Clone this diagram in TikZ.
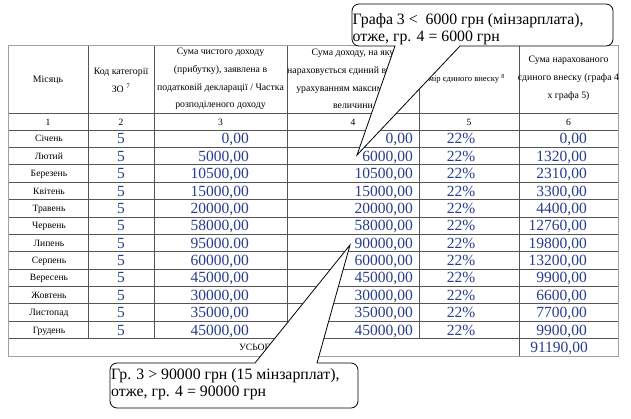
\documentclass[tikz,border=0pt]{standalone}
\usepackage{fontspec}
\setmainfont{Liberation Serif}
\definecolor{numblue}{RGB}{40,62,140}
\definecolor{gridc}{RGB}{85,85,85}
\definecolor{borderc}{RGB}{160,160,160}
\begin{document}
\begin{tikzpicture}[x=1pt,y=-1pt,
  grid/.style={draw=gridc, line width=0.6pt},
  border/.style={draw=borderc, line width=0.8pt},
  hdr/.style={font=\fontsize{9.8}{17.8}\selectfont, align=center, inner sep=0pt},
  colno/.style={font=\fontsize{9.6}{11}\selectfont, inner sep=0pt, anchor=base},
  mon/.style={font=\fontsize{9.6}{11}\selectfont, inner sep=0pt, anchor=base},
  num/.style={font=\fontsize{15.5}{17}\selectfont, text=numblue, inner sep=0pt, anchor=base east},
  pct/.style={font=\fontsize{15.5}{17}\selectfont, text=numblue, inner sep=0pt, anchor=base},
  callout/.style={draw=black, fill=white, line width=0.8pt, line join=miter},
  ctext/.style={font=\fontsize{15.8}{16.5}\selectfont, align=left, inner sep=0pt, anchor=north west}]
\useasboundingbox (0,0) rectangle (631,418);
\fill[white] (0,0) rectangle (631,418);
% grid
\foreach \y in {113,130} \draw[grid] (8,\y) -- (618,\y);
\foreach \k in {1,...,12} \draw[grid] (8,{130+\k*17.375}) -- (618,{130+\k*17.375});
\foreach \x in {88,154,287,419} \draw[grid] (\x,45) -- (\x,338.5);
\draw[grid] (519,45) -- (519,356);
\draw[border] (8,45) rectangle (618,356);
% header
\node[hdr] (h1) at (48,80) {Місяць};
\node[hdr] (h2) at (121,80.5) {Код категорії\\ЗО \textsuperscript{7}};
\node[hdr] (h3) at (220.5,79) {Сума чистого доходу\\(прибутку), заявлена в\\податковій декларації / Частка\\розподіленого доходу};
\node[hdr] (h4) at (353,79) {Сума доходу, на яку\\нараховується єдиний внесок, з\\урахуванням максимальної\\величини};
\node[hdr, font=\fontsize{8.6}{12}\selectfont, anchor=east] (h5) at (505,79) {Розмір єдиного внеску \textsuperscript{8}};
\node[hdr] (h6) at (568.5,78.5) {Сума нарахованого\\єдиного внеску (графа 4\\х графа 5)};
\foreach \t/\x in {1/48,2/121,3/220.5,4/353,5/469,6/568.5}
  \node[colno] (n\t) at (\x,125) {\t};
% rows
\foreach \m/\a/\b/\c [count=\i] in {
  Січень/0{,}00/0{,}00/0{,}00,
  Лютий/5000{,}00/6000{,}00/1320{,}00,
  Березень/10500{,}00/10500{,}00/2310{,}00,
  Квітень/15000{,}00/15000{,}00/3300{,}00,
  Травень/20000{,}00/20000{,}00/4400{,}00,
  Червень/58000{,}00/58000{,}00/12760{,}00,
  Липень/95000.00/90000{,}00/19800{,}00,
  Серпень/60000{,}00/60000{,}00/13200{,}00,
  Вересень/45000{,}00/45000{,}00/9900{,}00,
  Жовтень/30000{,}00/30000{,}00/6600{,}00,
  Листопад/35000{,}00/35000{,}00/7700{,}00,
  Грудень/45000{,}00/45000{,}00/9900{,}00}
{
  \pgfmathsetmacro\yc{130+(\i-0.5)*17.375}
  \node[mon] (m\i) at (49,\yc+3.3) {\m};
  \node[pct] (k\i) at (121,\yc+5.3) {5};
  \node[num] (a\i) at (249,\yc+5.3) {\a};
  \node[num] (b\i) at (413,\yc+5.3) {\b};
  \node[pct] (p\i) at (461,\yc+5.3) {22\%};
  \node[num] (c\i) at (587,\yc+5.3) {\c};
}
\node[mon] (tot) at (258,350.5) {УСЬОГО};
\node[num] (totv) at (588,352.5) {91190,00};
% callouts
\coordinate (t1) at (357,155);
\draw[callout] (395,46) -- (t1) -- (460,46) [rounded corners=7pt] -- (613,46) -- (613,4) -- (352,4) -- (352,46) -- (375,46) [sharp corners] -- cycle;
\node[ctext] (c1) at (352.5,13.5) {Графа 3 <\ \ 6000 грн (мінзарплата),\\отже, гр. 4 = 6000 грн};
\coordinate (t2) at (350,245);
\draw[callout] (255,363) -- (t2) -- (317,363) [rounded corners=7pt] -- (358,363) -- (358,408) -- (110,408) -- (110,363) -- (200,363) [sharp corners] -- cycle;
\node[ctext] (c2) at (111,368.5) {Гр. 3 > 90000 грн (15 мінзарплат),\\отже, гр. 4 = 90000 грн};
\end{tikzpicture}
\end{document}
